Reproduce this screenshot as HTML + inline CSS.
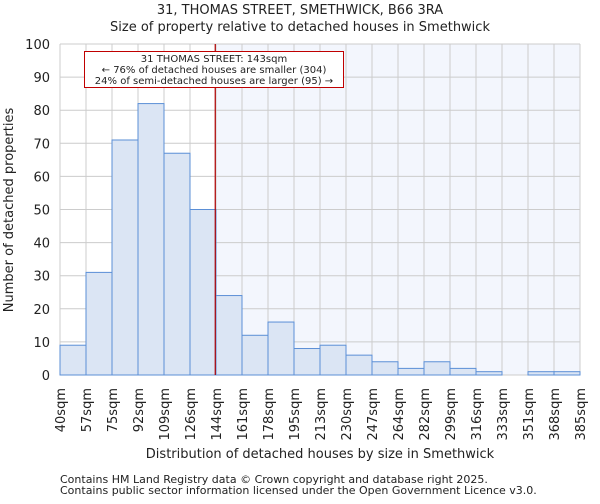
<!DOCTYPE html>
<html><head><meta charset="utf-8"><style>
body{margin:0;background:#fff;font-family:"DejaVu Sans","Liberation Sans",sans-serif;}
svg text{font-family:"DejaVu Sans","Liberation Sans",sans-serif;fill:#222;}
</style></head><body>
<svg id="chart" width="600" height="500" xmlns="http://www.w3.org/2000/svg">
<text x="300" y="14" text-anchor="middle" font-size="13">31, THOMAS STREET, SMETHWICK, B66 3RA</text>
<text x="300" y="31" text-anchor="middle" font-size="13">Size of property relative to detached houses in Smethwick</text>
<g id="plot"></g>
<text x="320" y="458" text-anchor="middle" font-size="13">Distribution of detached houses by size in Smethwick</text>
<text transform="translate(13,210) rotate(-90)" text-anchor="middle" font-size="13">Number of detached properties</text>
<text x="60" y="483" font-size="11" fill="#444">Contains HM Land Registry data © Crown copyright and database right 2025.</text>
<text x="60" y="494" font-size="11" fill="#444">Contains public sector information licensed under the Open Government Licence v3.0.</text>
</svg>
<script>
const binLabels=["40sqm","57sqm","75sqm","92sqm","109sqm","126sqm","144sqm","161sqm","178sqm","195sqm","213sqm","230sqm","247sqm","264sqm","282sqm","299sqm","316sqm","333sqm","351sqm","368sqm","385sqm"];
const counts=[9,31,71,82,67,50,24,12,16,8,9,6,4,2,4,2,1,0,1,1];
const yTicks=[0,10,20,30,40,50,60,70,80,90,100];
const minSize=40, maxSize=385, propertySize=143;
const X0=60,X1=580,Y0=375,Y1=44,YMAX=100;
const NS="http://www.w3.org/2000/svg";
const g=document.getElementById('plot');
function xs(i){return X0+i*(X1-X0)/counts.length;}
function xv(v){return X0+(v-minSize)/(maxSize-minSize)*(X1-X0);}
function ys(v){return Y0-v/YMAX*(Y0-Y1);}
function mk(t,a){const e=document.createElementNS(NS,t);for(const k in a)e.setAttribute(k,a[k]);g.appendChild(e);return e;}
const px=xv(propertySize);
let e=mk('rect',{x:px,y:Y1,width:X1-px,height:Y0-Y1,fill:'#f3f6fd'});


yTicks.forEach(t=>{
 let l=mk('line',{x1:X0,x2:X1,y1:ys(t),y2:ys(t),stroke:'#ccc','stroke-width':1});
 
 
 let tx=mk('text',{x:X0-10,y:ys(t)+5,'text-anchor':'end','font-size':13});
 tx.textContent=t;
 
 
});
binLabels.forEach((s,i)=>{
 let l=mk('line',{x1:xs(i),x2:xs(i),y1:Y1,y2:Y0,stroke:'#ccc','stroke-width':1});
 
 
 let tx=mk('text',{transform:`translate(${xs(i)+5},388) rotate(-90)`,'text-anchor':'end','font-size':13});
 tx.textContent=s;
 
 
});
counts.forEach((c,i)=>{
 let r=mk('rect',{x:xs(i),y:ys(c),width:xs(i+1)-xs(i),height:Y0-ys(c),fill:'#dbe5f4',stroke:'#5b8fd6','stroke-width':1});
 
 
});
e=mk('line',{x1:px,x2:px,y1:Y1,y2:Y0,stroke:'#b00000','stroke-width':1.2});


e=mk('rect',{x:84.5,y:51.5,width:259,height:36,fill:'#fff',stroke:'#c00000','stroke-width':1});


[["31 THOMAS STREET: 143sqm",62],["← 76% of detached houses are smaller (304)",73],["24% of semi-detached houses are larger (95) →",84]].forEach(([t,y])=>{
 let tx=mk('text',{x:214,y:y,'text-anchor':'middle','font-size':10});
 tx.textContent=t;
 
 
});
</script>
</body></html>
